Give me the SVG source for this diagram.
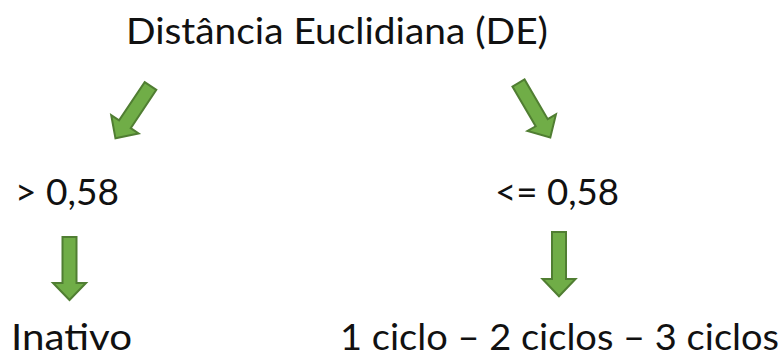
<svg xmlns="http://www.w3.org/2000/svg" xmlns:xlink="http://www.w3.org/1999/xlink" width="782" height="359" viewBox="0 0 782 359">
<style>
.t{font-family:Lato,"Open Sans","Liberation Sans",sans-serif;font-size:36px;fill:#111}
.ar{fill:#70AD47;stroke:#507E32;stroke-width:2;stroke-linejoin:miter}
</style>
<defs>
<path id="arrow" d="M-7,0 H7 V46 H16.5 L0,63 L-16.5,46 H-7 Z"/>
</defs>
<rect width="782" height="359" fill="#fff"/>
<g id="connectors">
<use xlink:href="#arrow" class="ar" transform="translate(150.5,86) rotate(33.8)"/>
<use xlink:href="#arrow" class="ar" transform="translate(518.5,83) rotate(-30.3)"/>
<use xlink:href="#arrow" class="ar" transform="translate(69.5,237)"/>
<use xlink:href="#arrow" class="ar" transform="translate(559,232) scale(1,1.02)"/>
</g>
<g id="root"><text class="t" x="126" y="44" textLength="422" lengthAdjust="spacingAndGlyphs">Distância Euclidiana (DE)</text></g>
<g id="gt"><text class="t" x="15" y="205" textLength="104" lengthAdjust="spacingAndGlyphs">&gt; 0,58</text></g>
<g id="le"><text class="t" x="495" y="205" textLength="124" lengthAdjust="spacingAndGlyphs">&lt;= 0,58</text></g>
<g id="inativo"><text class="t" x="11" y="350" textLength="121" lengthAdjust="spacingAndGlyphs">Inativo</text></g>
<g id="ciclos"><text class="t" x="340" y="350" textLength="439" lengthAdjust="spacingAndGlyphs">1 ciclo – 2 ciclos – 3 ciclos</text></g>
</svg>
